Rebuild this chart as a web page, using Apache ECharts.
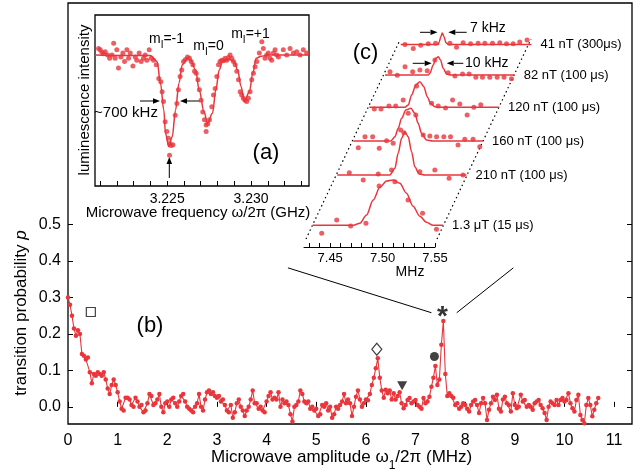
<!DOCTYPE html>
<html>
<head>
<meta charset="utf-8">
<script src="https://cdn.jsdelivr.net/npm/echarts@6/dist/echarts.min.js"></script>
<style>
html, body { margin: 0; padding: 0; background: #fff; }
#chart { width: 644px; height: 475px; }
</style>
</head>
<body>
<div id="chart"></div>
<script>
// ---- (b) transition probability vs microwave amplitude, one point every 0.04 MHz
var ampStep = 0.04;
var transProb = [
  0.30, 0.28, 0.25, 0.215, 0.195, 0.21, 0.20, 0.145, 0.14, 0.13, 0.135, 0.095, 0.065, 0.09, 0.085, 0.095, 0.09, 0.085, 0.095, 0.075, 0.05, 0.035, 0.06, 0.075, 0.06,
  0.04, 0.015, -0.005, -0.01, 0.025, 0.025, 0.02, 0.005, 0.0, 0.025, 0.015, 0.0, 0.005, -0.015, -0.01, 0.01, 0.035, 0.03, 0.005, 0.01, 0.02, 0.035, 0.0, -0.015, 0.01,
  0.015, 0.0, 0.02, 0.025, 0.01, 0.0, 0.015, 0.03, 0.035, 0.015, 0.0, -0.005, -0.01, -0.015, 0.0, 0.01, 0.035, 0.0, -0.01, 0.02, 0.04, 0.045, 0.035, 0.04, 0.03,
  0.025, 0.03, 0.015, 0.02, 0.005, -0.01, -0.015, 0.005, -0.03, -0.015, 0.01, 0.02, 0.0, -0.01, -0.025, -0.01, 0.0, 0.02, 0.045, 0.01, 0.01, -0.005, 0.0, -0.01, -0.015,
  0.015, 0.03, 0.04, 0.02, 0.025, 0.02, 0.04, 0.0, 0.02, 0.01, 0.015, 0.005, -0.02, -0.04, 0.0, 0.005, 0.015, 0.045, 0.035, 0.015, 0.01, 0.015, -0.005, 0.0, -0.01,
  -0.005, -0.025, -0.02, 0.005, 0.0, 0.01, -0.01, 0.0, -0.03, -0.02, 0.0, -0.005, 0.005, 0.015, 0.035, 0.01, 0.02, 0.01, -0.025, 0.0, 0.028, 0.045, 0.02, 0.0, 0.01,
  0.02, 0.018, 0.035, 0.06, 0.08, 0.106, 0.133, 0.08, 0.045, 0.025, 0.047, 0.037, 0.045, 0.02, 0.037, 0.02, 0.03, 0.04, 0.01, -0.004, 0.005, 0.019, 0.024, 0.01, 0.015,
  0.019, 0.005, 0.0, -0.005, 0.024, 0.01, 0.015, 0.028, 0.055, 0.08, 0.112, 0.06, 0.075, 0.17, 0.235, 0.09, 0.03, 0.037, 0.03, 0.025, 0.005, 0.01, -0.005, 0.0, 0.01,
  0.005, -0.005, -0.013, 0.005, 0.015, 0.019, 0.005, -0.017, 0.01, 0.024, 0.01, -0.036, -0.008, 0.01, 0.028, 0.019, 0.033, -0.005, -0.013, 0.02, 0.028, 0.01, 0.005, -0.013, 0.037,
  0.005, -0.004, 0.0, 0.033, 0.015, 0.019, 0.0, 0.005, 0.0, -0.008, 0.01, 0.015, 0.019, 0.005, -0.004, -0.017, -0.036, 0.0, 0.015, 0.01, 0.005, 0.019, 0.005, 0.019, 0.024,
  0.015, 0.019, 0.037, 0.01, -0.004, -0.013, 0.019, 0.033, -0.022, -0.036, -0.045, 0.005, 0.024, 0.005, -0.026, -0.008, 0.01, 0.024
];
var ampTicks = [0, 1, 2, 3, 4, 5, 6, 7, 8, 9, 10, 11];
var probTicks = [0, 0.1, 0.2, 0.3, 0.4, 0.5];

// symbols marking the resonances
var markSquare = [[0.46, 0.26]];
var markDiamond = [[6.22, 0.158]];
var markTriangle = [[6.73, 0.058]];
var markCircle = [[7.38, 0.138]];
var markStar = [[7.54, 0.268]];
// guide lines from inset (c) down to the starred peak
var guideLeft = [[4.43, 0.381], [7.32, 0.258]];
var guideRight = [[7.83, 0.258], [8.97, 0.381]];

// ---- (a) ODMR spectrum
var odmrFreq = [3.22091, 3.22101, 3.22111, 3.22121, 3.22131, 3.22145, 3.22157, 3.22171, 3.22181, 3.22190,
  3.22200, 3.22210, 3.22224, 3.22236, 3.22246, 3.22260, 3.22270, 3.22280, 3.22296, 3.22310,
  3.22319, 3.22333, 3.22345, 3.22359, 3.22369, 3.22379, 3.22393, 3.22405, 3.22419, 3.22435,
  3.22450, 3.22462, 3.22470, 3.22478, 3.22488, 3.22498, 3.22508, 3.22514, 3.22524, 3.22534,
  3.22514, 3.22548, 3.22558, 3.22567, 3.22577, 3.22587, 3.22597, 3.22609, 3.22621, 3.22633,
  3.22643, 3.22653, 3.22663, 3.22673, 3.22683, 3.22692, 3.22702, 3.22712, 3.22722, 3.22732,
  3.22742, 3.22732, 3.22752, 3.22766, 3.22776, 3.22786, 3.22796, 3.22806, 3.22815, 3.22825,
  3.22835, 3.22845, 3.22855, 3.22865, 3.22875, 3.22885, 3.22895, 3.22905, 3.22915, 3.22925,
  3.22935, 3.22944, 3.22954, 3.22964, 3.22974, 3.22984, 3.22994, 3.23004, 3.23014, 3.23024,
  3.23034, 3.23049, 3.23064, 3.23073, 3.23083, 3.23093, 3.23103, 3.23113, 3.23123, 3.23133,
  3.23143, 3.23153, 3.23163, 3.23192, 3.23212, 3.23232, 3.23252, 3.23272, 3.23292, 3.23311,
  3.23331];
var odmrLum = [1.010, 1.008, 1.004, 1.002, 1.005, 1.000, 0.995, 1.000, 1.018, 0.995,
  1.008, 0.980, 0.997, 1.003, 0.990, 1.008, 0.995, 1.003, 0.983, 0.997,
  0.992, 1.003, 0.990, 0.995, 1.000, 0.992, 1.008, 0.995, 0.992, 0.985,
  0.964, 0.959, 0.944, 0.929, 0.898, 0.883, 0.873, 0.865, 0.862, 0.863,
  0.847, 0.908, 0.926, 0.947, 0.967, 0.977, 0.990, 0.993, 0.997, 0.995,
  0.990, 0.985, 0.975, 0.972, 0.962, 0.947, 0.931, 0.913, 0.901, 0.893,
  0.895, 0.883, 0.901, 0.921, 0.939, 0.949, 0.967, 0.985, 0.990, 0.992,
  0.991, 0.995, 0.992, 0.996, 1.000, 0.995, 0.990, 0.985, 0.975, 0.962,
  0.944, 0.939, 0.934, 0.931, 0.929, 0.934, 0.944, 0.962, 0.972, 0.982,
  0.990, 1.003, 1.020, 1.010, 0.995, 1.000, 1.003, 0.995, 0.992, 1.003,
  1.008, 1.000, 0.997, 1.008, 1.000, 1.010, 1.003, 1.005, 1.000, 1.008,
  1.003];
var odmrFit = [[3.2207, 1.0], [3.2240, 0.999], [3.2244, 0.990], [3.2246, 0.957], [3.2248, 0.916], [3.2249, 0.880],
  [3.2251, 0.860], [3.2253, 0.875], [3.2255, 0.916], [3.2257, 0.957], [3.2259, 0.985], [3.2262, 0.995],
  [3.2264, 0.992], [3.2267, 0.977], [3.2269, 0.947], [3.2272, 0.913], [3.2274, 0.896], [3.2277, 0.911],
  [3.2279, 0.947], [3.2281, 0.977], [3.2283, 0.990], [3.2287, 0.993], [3.2290, 0.990], [3.2292, 0.977],
  [3.2294, 0.952], [3.2296, 0.929], [3.2299, 0.944], [3.2301, 0.972], [3.2303, 0.995], [3.2306, 0.998],
  [3.2310, 1.0], [3.2334, 1.0]];
var odmrTicks = [3.221, 3.222, 3.223, 3.224, 3.225, 3.226, 3.227, 3.228, 3.229, 3.230, 3.231, 3.232, 3.233];
var odmrLabels = [3.225, 3.230];

// ---- (c) zoom on the starred resonance for decreasing microwave field
var traceNames = ['1.3 μT (15 μs)', '210 nT (100 μs)', '160 nT (100 μs)', '120 nT (100 μs)', '82 nT (100 μs)', '41 nT (300μs)'];
var fit13uT = [[7.425, 0], [7.4638, 0], [7.4701, 0.02], [7.4765, 0.103], [7.4828, 0.253], [7.4892, 0.38], [7.4956, 0.443],
  [7.5019, 0.453], [7.5082, 0.42], [7.5146, 0.32], [7.5209, 0.19], [7.5273, 0.09], [7.5337, 0.03], [7.540, 0.0], [7.5495, 0]];
var pts13uT = [[7.4337, -0.08], [7.448, 0.053], [7.4613, -0.007], [7.4759, 0.02], [7.4885, 0.393], [7.5035, 0.436],
  [7.5161, 0.253], [7.5299, 0.12], [7.5432, -0.04]];
var fit210nT = [[7.4262, 0], [7.4764, 0], [7.4812, 0.067], [7.4843, 0.217], [7.4876, 0.367], [7.4907, 0.433], [7.4939, 0.383],
  [7.4971, 0.233], [7.5002, 0.083], [7.5043, 0.01], [7.510, 0], [7.5495, 0]];
var pts210nT = [[7.4377, 0.023], [7.451, -0.05], [7.4653, 0.01], [7.478, 0.05], [7.4898, 0.423], [7.505, 0.033],
  [7.5193, 0.05], [7.5329, -0.033], [7.5462, 0]];
var fit160nT = [[7.4262, 0], [7.462, 0], [7.466, 0.043], [7.4691, 0.127], [7.4723, 0.227], [7.4764, 0.31], [7.4812, 0.327],
  [7.485, 0.277], [7.4881, 0.177], [7.4914, 0.077], [7.4961, 0.01], [7.502, 0], [7.550, 0]];
var pts160nT = [[7.431, -0.067], [7.4374, 0.043], [7.4447, 0.043], [7.451, -0.073], [7.458, 0.003], [7.4643, -0.023],
  [7.4714, 0.11], [7.4786, 0.277], [7.4859, 0.26], [7.4929, 0.06], [7.4993, 0.05], [7.5057, 0.043], [7.5126, 0.043],
  [7.519, 0.043], [7.5262, -0.04], [7.5326, 0.017], [7.5405, 0.017], [7.5469, -0.057]];
var fit120nT = [[7.4263, 0], [7.4602, 0], [7.4634, 0.023], [7.4666, 0.123], [7.4707, 0.223], [7.4745, 0.256], [7.4783, 0.206],
  [7.4815, 0.106], [7.4847, 0.04], [7.4888, 0.006], [7.494, 0], [7.550, 0]];
var pts120nT = [[7.431, -0.017], [7.4374, -0.017], [7.445, 0.013], [7.4514, 0.013], [7.4586, 0.073], [7.4714, 0.213],
  [7.4857, 0.04], [7.492, 0.013], [7.499, -0.007], [7.5057, 0.073], [7.5126, 0.033], [7.5196, -0.077], [7.526, 0], [7.5326, 0.026]];
var fit82nT = [[7.4269, 0], [7.4681, 0], [7.4698, 0.017], [7.4729, 0.1], [7.4755, 0.167], [7.4777, 0.183], [7.4799, 0.15],
  [7.4824, 0.067], [7.4857, 0.01], [7.490, 0], [7.5507, 0]];
var pts82nT = [[7.4317, 0.033], [7.4386, -0.003], [7.446, 0.083], [7.4533, 0.033], [7.4602, 0.05], [7.4672, 0.043],
  [7.4745, 0.15], [7.4872, 0.023], [7.4936, -0.01], [7.5009, 0.01], [7.5072, 0.01], [7.5136, -0.023], [7.5199, -0.023],
  [7.5269, -0.023], [7.5339, -0.023], [7.5405, -0.023], [7.5476, -0.037]];
var fit41nT = [[7.4266, 0], [7.4624, 0], [7.4634, 0.033], [7.465, 0.1], [7.4663, 0.143], [7.4679, 0.1], [7.4698, 0.023],
  [7.472, 0], [7.5514, 0]];
var pts41nT = [[7.4307, 0], [7.4386, -0.05], [7.4457, -0.01], [7.4529, 0.01], [7.4599, 0.017], [7.4736, 0.017],
  [7.4799, -0.033], [7.4862, 0.023], [7.4933, 0.01], [7.5005, 0.017], [7.5069, 0.017], [7.5142, 0.017], [7.5212, 0.023],
  [7.5276, 0.01], [7.5339, 0.01], [7.5402, 0.033], [7.5472, 0.057]];
var zoomTicks = [7.43, 7.44, 7.45, 7.46, 7.47, 7.48, 7.49, 7.50, 7.51, 7.52, 7.53, 7.54, 7.55];
var zoomLabels = [7.45, 7.50, 7.55];

var traceFits = [fit13uT, fit210nT, fit160nT, fit120nT, fit82nT, fit41nT];
var tracePts = [pts13uT, pts210nT, pts160nT, pts120nT, pts82nT, pts41nT];
// layout of the skewed stack (pixels)
var traceShift = [8.6, 32, 48, 64, 79, 95];
var traceBase = [225.3, 175, 141, 107.3, 75, 41.7];

var RED = '#e8363c';
var FONT = "'Liberation Sans', Arial, Helvetica, sans-serif";

var chart = echarts.init(document.getElementById('chart'));

function arrow(x1, y1, x2, y2) {
  var dx = x2 - x1, dy = y2 - y1;
  var len = Math.sqrt(dx * dx + dy * dy);
  var ux = dx / len, uy = dy / len, hl = 7, hw = 2.8;
  var bx = x2 - ux * hl, by = y2 - uy * hl;
  return {
    type: 'group', z: 100,
    children: [
      { type: 'line', shape: { x1: x1, y1: y1, x2: bx, y2: by }, style: { stroke: '#000', lineWidth: 1 } },
      { type: 'polygon', shape: { points: [[x2, y2], [bx - uy * hw, by + ux * hw], [bx + uy * hw, by - ux * hw]] }, style: { fill: '#000' } }
    ]
  };
}

function txt(x, y, text, size, opts) {
  var o = opts || {};
  return {
    type: 'text', x: x, y: y, z: 100, rotation: o.rotation || 0,
    style: {
      text: text, fill: o.color || '#000', font: (o.italic ? 'italic ' : '') + size + 'px ' + FONT,
      align: o.align || 'center', verticalAlign: 'middle', rich: o.rich
    }
  };
}

var grids = [
  { left: 68, top: 3, right: 12, bottom: 51, show: true, borderColor: '#000', borderWidth: 1.3 },
  { left: 95, top: 15, width: 214, height: 171, show: true, borderColor: '#000', borderWidth: 1.3, backgroundColor: '#fff' },
  { left: 304, top: 200, width: 131, height: 47 }
];
var xAxes = [
  {
    gridIndex: 0, type: 'value', min: 0, max: 11.36,
    axisLine: { show: false },
    axisTick: { show: true, inside: true, length: 5, customValues: ampTicks, lineStyle: { color: '#000' } },
    axisLabel: { customValues: ampTicks, fontSize: 16, color: '#000', margin: 9, fontFamily: FONT },
    splitLine: { show: false }
  },
  {
    gridIndex: 1, type: 'value', min: 3.2207, max: 3.23345,
    axisLine: { show: false },
    axisTick: { show: true, inside: true, length: 5, customValues: odmrTicks, lineStyle: { color: '#000' } },
    axisLabel: { customValues: odmrLabels, fontSize: 14, color: '#000', margin: 6, fontFamily: FONT,
      formatter: function (v) { return v.toFixed(3); } },
    splitLine: { show: false }
  },
  {
    gridIndex: 2, type: 'value', min: 7.425, max: 7.55,
    axisLine: { show: true, lineStyle: { color: '#000', width: 1 } },
    axisTick: { show: true, inside: true, length: 4, customValues: zoomTicks, lineStyle: { color: '#000' } },
    axisLabel: { customValues: zoomLabels, fontSize: 13, color: '#000', margin: 5, fontFamily: FONT,
      formatter: function (v) { return v.toFixed(2); } },
    splitLine: { show: false }
  }
];
var yAxes = [
  {
    gridIndex: 0, type: 'value', min: -0.047, max: 1.107,
    axisLine: { show: false },
    axisTick: { show: true, inside: true, length: 5, customValues: probTicks, lineStyle: { color: '#000' } },
    axisLabel: { customValues: probTicks, fontSize: 16, color: '#000', margin: 7, fontFamily: FONT,
      formatter: function (v) { return v.toFixed(1); } },
    splitLine: { show: false }
  },
  {
    gridIndex: 0, type: 'value', position: 'right', min: -0.047, max: 1.107,
    axisLine: { show: false },
    axisTick: { show: true, inside: true, length: 5, customValues: probTicks, lineStyle: { color: '#000' } },
    axisLabel: { show: false },
    splitLine: { show: false }
  },
  { gridIndex: 1, type: 'value', min: 0.80, max: 1.061, show: false },
  { gridIndex: 2, type: 'value', min: 0, max: 1, show: false }
];

var series = [
  {
    type: 'line', xAxisIndex: 0, yAxisIndex: 0,
    data: transProb.map(function (v, i) { return [+(i * ampStep).toFixed(2), v]; }),
    symbol: 'circle', symbolSize: 4.5, lineStyle: { color: RED, width: 1.1 }, itemStyle: { color: RED }
  },
  { type: 'line', xAxisIndex: 0, yAxisIndex: 0, data: guideLeft, symbol: 'none', lineStyle: { color: '#000', width: 1 } },
  { type: 'line', xAxisIndex: 0, yAxisIndex: 0, data: guideRight, symbol: 'none', lineStyle: { color: '#000', width: 1 } },
  { type: 'scatter', xAxisIndex: 0, yAxisIndex: 0, data: markSquare, symbol: 'rect', symbolSize: 9,
    itemStyle: { color: '#fff', borderColor: '#111', borderWidth: 1.2 } },
  { type: 'scatter', xAxisIndex: 0, yAxisIndex: 0, data: markDiamond, symbol: 'diamond', symbolSize: [10, 12],
    itemStyle: { color: '#fff', borderColor: '#111', borderWidth: 1.2 } },
  { type: 'scatter', xAxisIndex: 0, yAxisIndex: 0, data: markTriangle, symbol: 'triangle', symbolRotate: 180, symbolSize: [10, 9],
    itemStyle: { color: '#111' } },
  { type: 'scatter', xAxisIndex: 0, yAxisIndex: 0, data: markCircle, symbol: 'circle', symbolSize: 9,
    itemStyle: { color: '#111' } },
  { type: 'scatter', xAxisIndex: 0, yAxisIndex: 0, data: markStar, symbolSize: 1, itemStyle: { color: 'rgba(0,0,0,0)' },
    label: { show: true, position: 'inside', formatter: '*', fontSize: 28, fontWeight: 'bold', color: '#000', offset: [0, 8], fontFamily: FONT } },
  { type: 'scatter', xAxisIndex: 1, yAxisIndex: 2, data: odmrFreq.map(function (f, i) { return [f, odmrLum[i]]; }),
    symbolSize: 5, itemStyle: { color: RED } },
  { type: 'line', xAxisIndex: 1, yAxisIndex: 2, data: odmrFit, smooth: 0.35, smoothMonotone: 'x', symbol: 'none',
    lineStyle: { color: RED, width: 1.5 } }
];

for (var k = 0; k < traceFits.length; k++) {
  grids.push({ left: 304 + traceShift[k], top: traceBase[k] - 55, width: 131, height: 70 });
  xAxes.push({ gridIndex: 3 + k, type: 'value', min: 7.425, max: 7.55, show: false });
  yAxes.push({ gridIndex: 3 + k, type: 'value', min: -0.15, max: 0.55, show: false });
  series.push({
    type: 'line', name: traceNames[k], xAxisIndex: 3 + k, yAxisIndex: 4 + k, data: traceFits[k],
    smooth: 0.3, smoothMonotone: 'x', symbol: 'none', clip: false,
    lineStyle: { color: RED, width: 1.5 },
    endLabel: { show: true, formatter: traceNames[k], color: '#000', fontSize: 13, distance: 9, fontFamily: FONT }
  });
  series.push({
    type: 'scatter', xAxisIndex: 3 + k, yAxisIndex: 4 + k, data: tracePts[k], clip: false,
    symbolSize: 5, itemStyle: { color: RED }
  });
}

var subRich = {
  n: { fontSize: 17, fontFamily: FONT, color: '#000', lineHeight: 20 },
  s: { fontSize: 12, fontFamily: FONT, color: '#000', verticalAlign: 'bottom', lineHeight: 20, padding: [0, 0, -5, 0] },
  i: { fontSize: 17, fontFamily: FONT, color: '#000', fontStyle: 'italic', lineHeight: 20 }
};
var mRich = {
  n: { fontSize: 14, fontFamily: FONT, color: RED, lineHeight: 16 },
  s: { fontSize: 10, fontFamily: FONT, color: RED, verticalAlign: 'bottom', lineHeight: 16, padding: [0, 0, -3, 0] }
};

var graphics = [
  txt(211, 457, '{n|Microwave amplitude ω}{s|1}{n|/2π (MHz)}', 17, { align: 'left', rich: subRich }),
  txt(21, 313, '{n|transition probability }{i|p}', 17, { rotation: Math.PI / 2, rich: subRich }),
  txt(85, 100, 'luminescence intensity', 15, { rotation: Math.PI / 2 }),
  txt(198, 213, 'Microwave frequency ω/2π (GHz)', 15),
  txt(266, 153, '(a)', 22),
  txt(150, 326, '(b)', 22),
  txt(365.5, 53, '(c)', 22),
  txt(166.5, 39, '{n|m}{s|I}{n|=-1}', 14, { rich: mRich }),
  txt(208.5, 46, '{n|m}{s|I}{n|=0}', 14, { rich: mRich }),
  txt(250.5, 34, '{n|m}{s|I}{n|=+1}', 14, { rich: mRich }),
  txt(126, 113, '~700 kHz', 15),
  txt(470, 28.3, '7 kHz', 14, { align: 'left' }),
  txt(465, 63.3, '10 kHz', 14, { align: 'left' }),
  txt(410, 272, 'MHz', 14),
  arrow(140, 101, 160, 101),
  arrow(200, 101, 180, 101),
  arrow(169.3, 178, 169.3, 157),
  arrow(420, 32.3, 437.5, 32.3),
  arrow(466.7, 32.3, 448.3, 32.3),
  arrow(412.7, 63.3, 431.7, 63.3),
  arrow(463.3, 63.3, 446.7, 63.3),
  { type: 'line', z: 1, shape: { x1: 306, y1: 239, x2: 400, y2: 40 }, style: { stroke: '#000', lineWidth: 1.2, lineDash: [1.5, 3] } },
  { type: 'line', z: 1, shape: { x1: 437, y1: 239, x2: 531, y2: 39 }, style: { stroke: '#000', lineWidth: 1.2, lineDash: [1.5, 3] } }
];

chart.setOption({
  animation: false,
  backgroundColor: '#fff',
  textStyle: { fontFamily: FONT },
  grid: grids,
  xAxis: xAxes,
  yAxis: yAxes,
  series: series,
  graphic: graphics
});
</script>
</body>
</html>
